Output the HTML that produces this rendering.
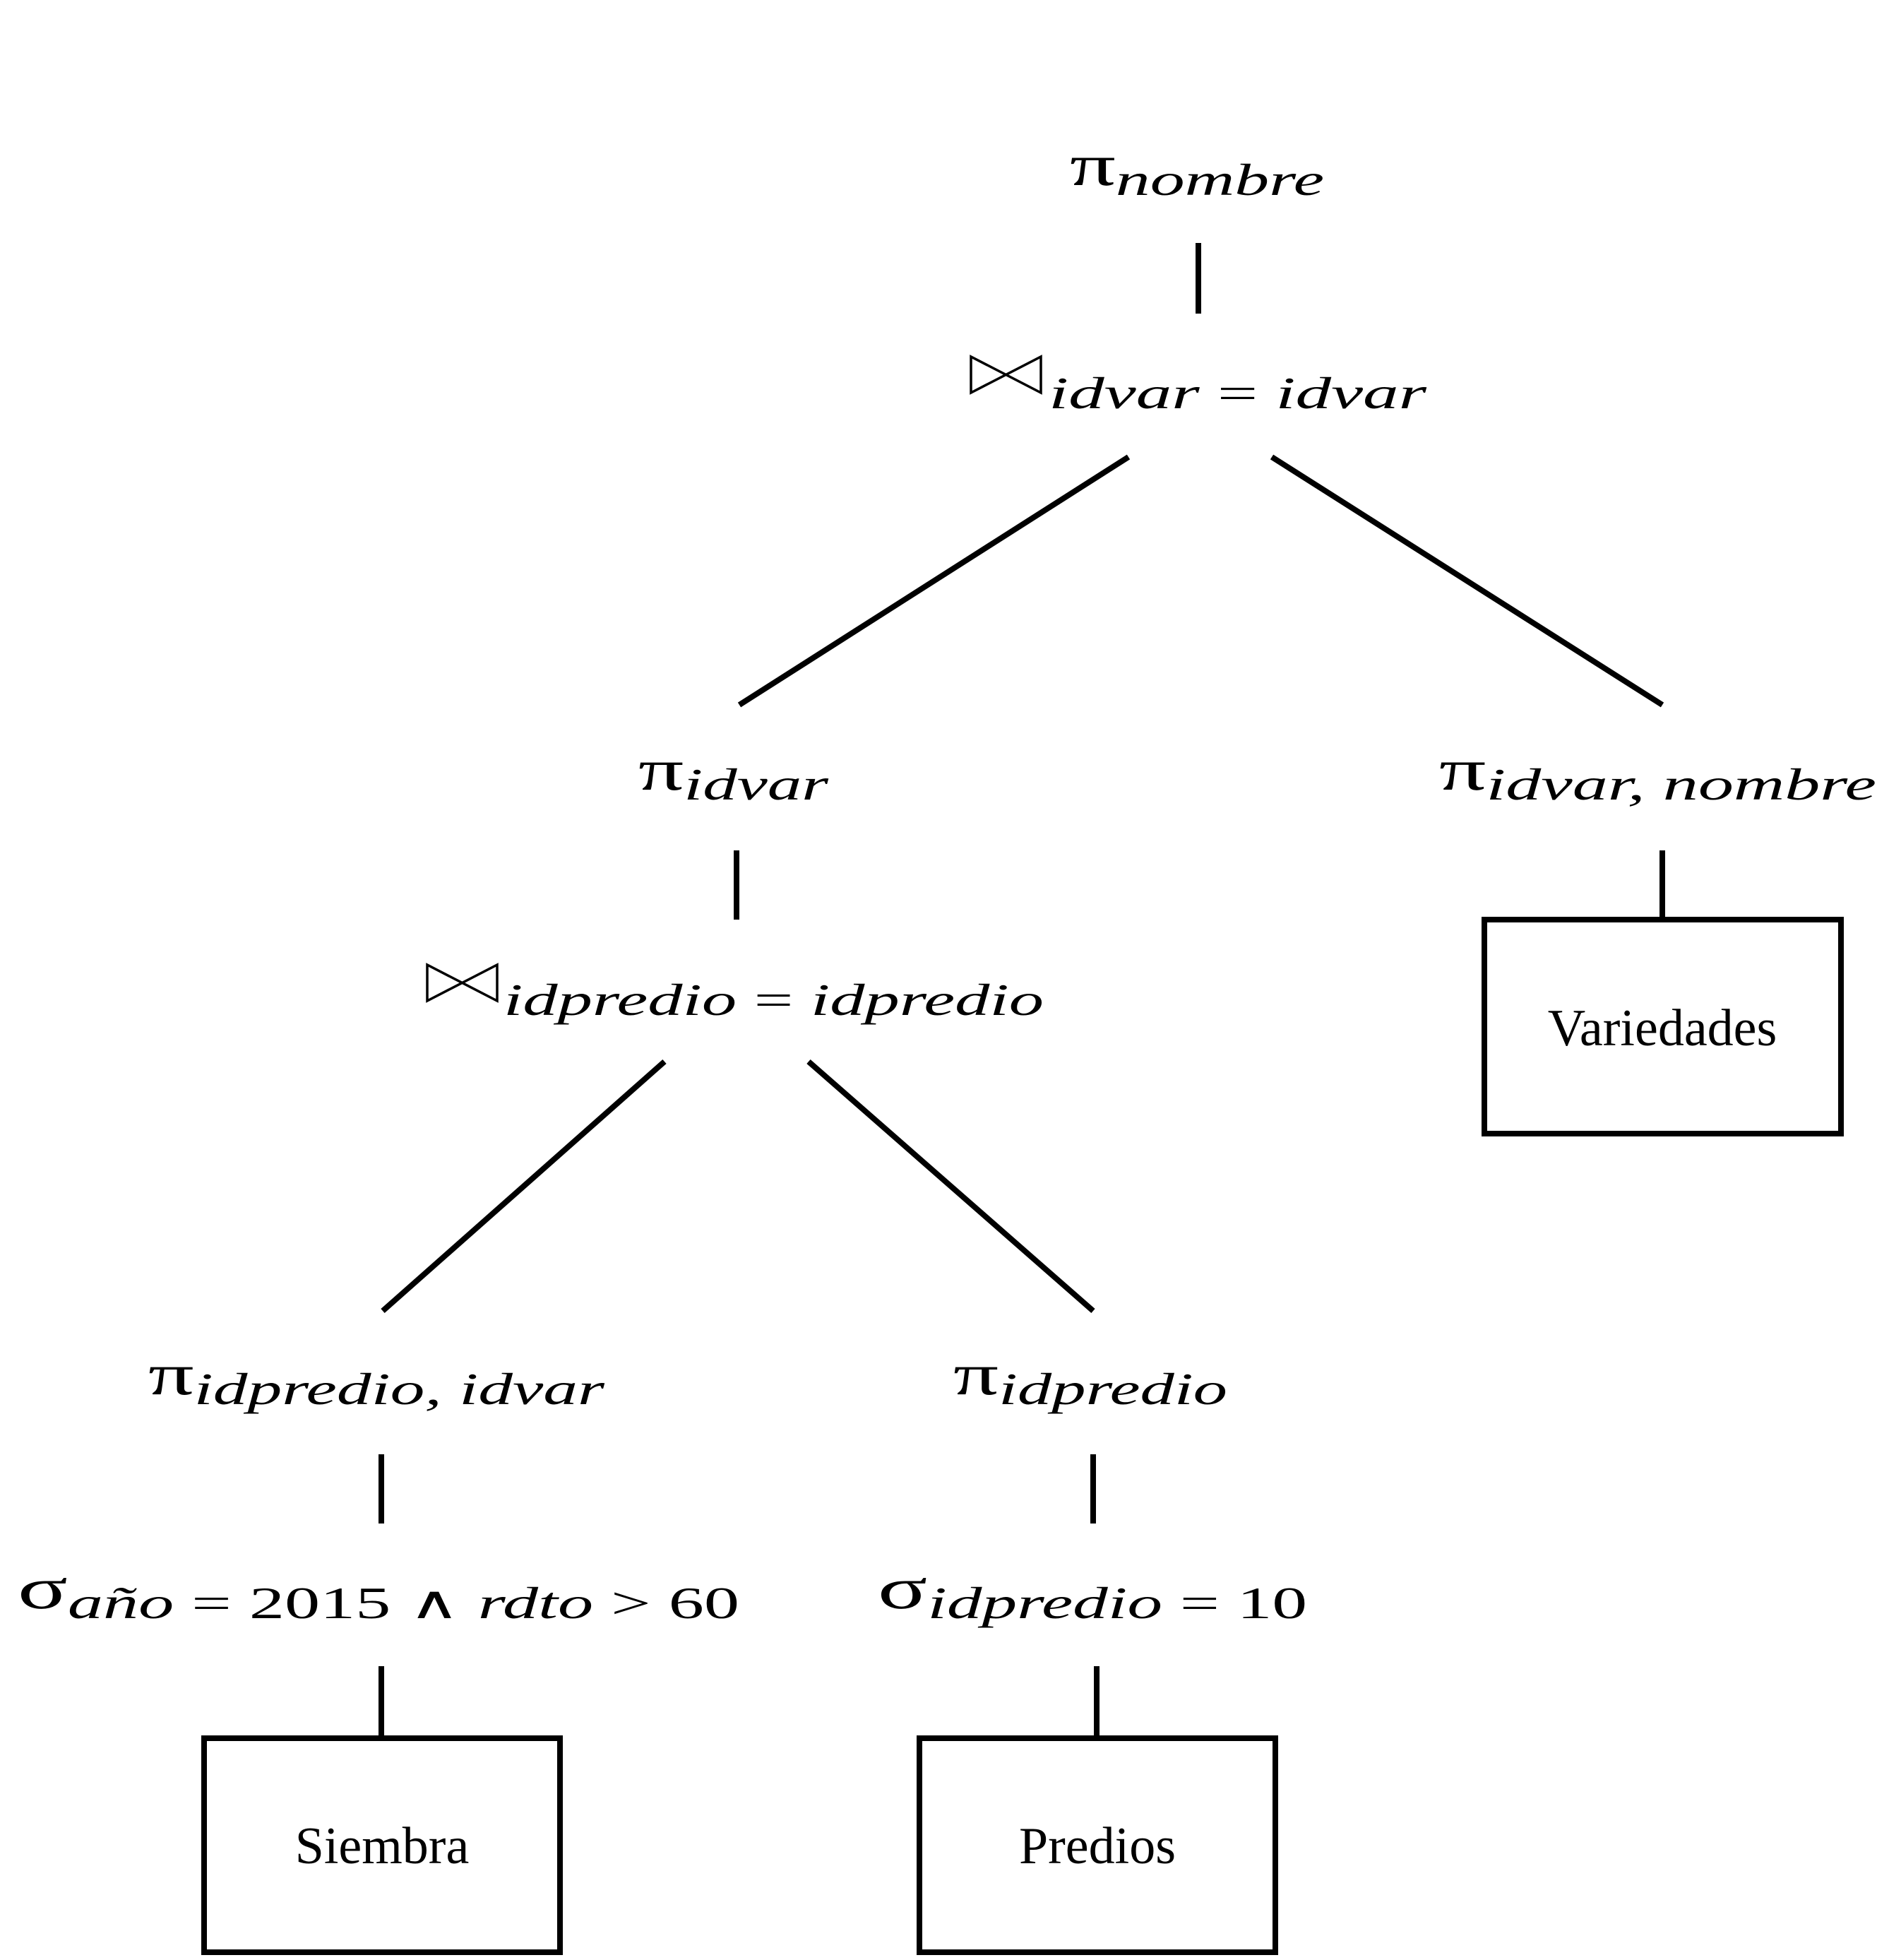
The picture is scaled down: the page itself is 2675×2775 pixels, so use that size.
<!DOCTYPE html>
<html><head><meta charset="utf-8"><style>
html,body{margin:0;padding:0;background:#fff;}
svg{display:block;}
text{font-family:"Liberation Serif","DejaVu Serif",serif;fill:#000;}
.m{font-size:84px;}
.s{font-size:64px;font-style:italic;}
.r{font-size:64px;font-style:normal;}
.lbl{font-size:74px;}
</style></head><body>
<svg width="2675" height="2775" viewBox="0 0 2675 2775" xmlns="http://www.w3.org/2000/svg">
<g stroke="#000" stroke-width="8" fill="none">
<line x1="1697" y1="344" x2="1697" y2="444"/>
<line x1="1598" y1="647" x2="1047" y2="998"/>
<line x1="1801" y1="647" x2="2354" y2="998"/>
<line x1="1043" y1="1204" x2="1043" y2="1302"/>
<line x1="2354" y1="1204" x2="2354" y2="1302"/>
<rect x="2102" y="1302" width="505" height="303"/>
<line x1="941" y1="1503" x2="542" y2="1856"/>
<line x1="1145" y1="1503" x2="1548" y2="1856"/>
<line x1="540" y1="2059" x2="540" y2="2157"/>
<line x1="1548" y1="2059" x2="1548" y2="2157"/>
<line x1="540" y1="2359" x2="540" y2="2461"/>
<line x1="1553" y1="2359" x2="1553" y2="2461"/>
<rect x="289" y="2461" width="504" height="303"/>
<rect x="1302" y="2461" width="504" height="303"/>
</g>
<g stroke="#000" stroke-width="3.5" fill="none" stroke-linejoin="miter">
<path d="M1375 505 L1375 556 L1474 505 L1474 556 Z"/>
<path d="M605 1366 L605 1417 L704 1366 L704 1417 Z"/>
</g>

<text x="1515" y="262" textLength="360" lengthAdjust="spacingAndGlyphs"><tspan class="m">π</tspan><tspan class="s" dy="14">nombre</tspan></text>
<text x="1485" y="578" textLength="535" lengthAdjust="spacingAndGlyphs"><tspan class="s">idvar </tspan><tspan class="r">= </tspan><tspan class="s">idvar</tspan></text>

<text x="904" y="1118" textLength="269" lengthAdjust="spacingAndGlyphs"><tspan class="m">π</tspan><tspan class="s" dy="14">idvar</tspan></text>
<text x="2038" y="1118" textLength="619" lengthAdjust="spacingAndGlyphs"><tspan class="m">π</tspan><tspan class="s" dy="14">idvar, nombre</tspan></text>

<text class="lbl" x="2354" y="1480" text-anchor="middle">Variedades</text>

<text x="713" y="1437" textLength="765" lengthAdjust="spacingAndGlyphs"><tspan class="s">idpredio </tspan><tspan class="r">= </tspan><tspan class="s">idpredio</tspan></text>

<text x="210" y="1974" textLength="646" lengthAdjust="spacingAndGlyphs"><tspan class="m">π</tspan><tspan class="s" dy="14">idpredio, idvar</tspan></text>
<text x="1350" y="1974" textLength="388" lengthAdjust="spacingAndGlyphs"><tspan class="m">π</tspan><tspan class="s" dy="14">idpredio</tspan></text>

<text x="25" y="2277" textLength="1022" lengthAdjust="spacingAndGlyphs"><tspan class="m">σ</tspan><tspan class="s" dy="14">año </tspan><tspan class="r">= 2015 ∧ </tspan><tspan class="s">rdto </tspan><tspan class="r">&gt; 60</tspan></text>
<text x="1243" y="2277" textLength="608" lengthAdjust="spacingAndGlyphs"><tspan class="m">σ</tspan><tspan class="s" dy="14">idpredio </tspan><tspan class="r">= 10</tspan></text>

<text class="lbl" x="541" y="2638" text-anchor="middle">Siembra</text>
<text class="lbl" x="1554" y="2638" text-anchor="middle">Predios</text>
</svg>
</body></html>
